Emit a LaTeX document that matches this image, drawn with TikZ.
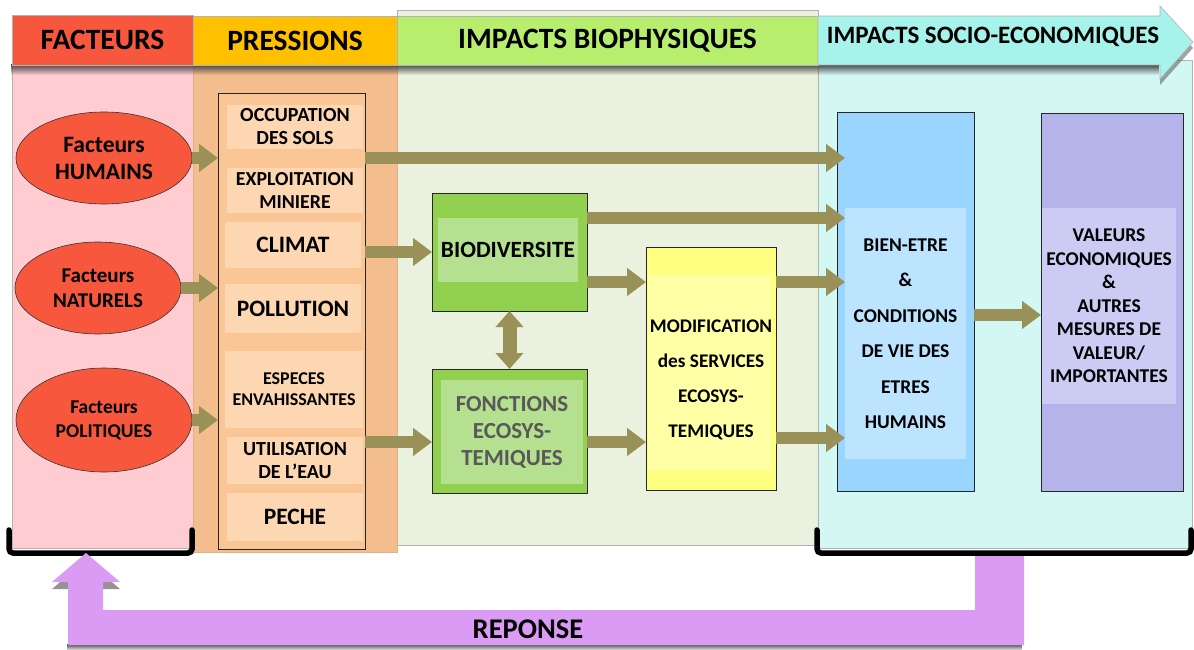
\documentclass[tikz,border=0pt]{standalone}
\usepackage{fontspec}
\setmainfont{Carlito}
\usetikzlibrary{arrows.meta,shapes.geometric,fadings,calc}
\definecolor{cRed}{HTML}{F7583D}
\definecolor{cOrange}{HTML}{FFC000}
\definecolor{cGreenH}{HTML}{B8EE6D}
\definecolor{cCyanH}{HTML}{A6F3EB}
\definecolor{cPink}{HTML}{FFCCD2}
\definecolor{cOrCol}{HTML}{F4BD8E}
\definecolor{cPBox}{HTML}{FAC696}
\definecolor{cPSub}{HTML}{FDD6B2}
\definecolor{cBioCol}{HTML}{EBF1DF}
\definecolor{cSocCol}{HTML}{D3F8F4}
\definecolor{cOlive}{HTML}{9A9159}
\definecolor{cGreen}{HTML}{92D050}
\definecolor{cGreenIn}{HTML}{B5E08F}
\definecolor{cYel}{HTML}{FFFF80}
\definecolor{cYelIn}{HTML}{FFFFA6}
\definecolor{cBlue}{HTML}{99D5FF}
\definecolor{cBlueIn}{HTML}{BCE4FF}
\definecolor{cLav}{HTML}{B4B4EB}
\definecolor{cLavIn}{HTML}{CBCBF3}
\definecolor{cPurp}{HTML}{D99BF3}
\definecolor{cGrayTxt}{HTML}{595959}
\newcommand{\fs}[2]{\fontsize{#1}{#2}\selectfont}
\begin{document}
\begin{tikzpicture}[x=1pt,y=-1pt,
  every node/.style={font=\bfseries, inner sep=0pt, outer sep=0pt},
  colbg/.style={draw=gray!60, line width=0.6pt, anchor=north west},
  hdr/.style={draw=gray!60, line width=0.6pt, anchor=north west, minimum height=50pt, font=\bfseries\fs{29.5}{31}},
  fbox/.style={draw=black!85, line width=0.8pt, anchor=north west},
  inbox/.style={anchor=north west, align=center},
  psub/.style={fill=cPSub, anchor=north west, align=center},
  fat/.style={draw=cOlive, line width=12pt, -{Triangle[length=19pt,width=27pt]}},
  fatboth/.style={draw=cOlive, line width=14pt, {Triangle[length=16pt,width=27pt]}-{Triangle[length=16pt,width=27pt]}},
  elli/.style={ellipse, draw=black!80, line width=0.6pt, fill=cRed, align=center},
  bracket/.style={draw=black, line width=5.5pt, rounded corners=4pt, line cap=round}
]
\useasboundingbox (0,0) rectangle (1194,650);
% columns
\node[colbg, fill=cBioCol, minimum width=421pt, minimum height=535pt] (biocol) at (397,10) {};
\node[colbg, fill=cPink, minimum width=181pt, minimum height=488pt] (faccol) at (12,60) {};
\node[colbg, fill=cOrCol, draw=cOrCol!80!gray, minimum width=204pt, minimum height=492pt] (precol) at (193,60) {};
\node[colbg, fill=cSocCol, minimum width=374pt, minimum height=488pt] (soccol) at (818,60) {};
% header shadow
\fill[black!75, path fading=south] (12,64) rectangle (1162,75);
\fill[black!60, opacity=0.6] (1160,12) -- (1193,48) -- (1160,85) -- cycle;
% headers
\node[hdr, fill=cRed, minimum width=181pt] (hfac) at (12,15) {FACTEURS};
\node[hdr, fill=cOrange, minimum width=204pt, minimum height=49pt] (hpre) at (193,16) {PRESSIONS};
\node[hdr, fill=cGreenH, minimum width=421pt, minimum height=49pt] (hbio) at (397,16) {IMPACTS BIOPHYSIQUES};
\filldraw[fill=cCyanH, draw=gray!60, line width=0.6pt] (818,16) -- (1160,16) -- (1160,6) -- (1193,42) -- (1160,79) -- (1160,65) -- (818,65) -- cycle;
\node[font=\bfseries\fs{25}{27}] (hsoc) at (993,37) {IMPACTS SOCIO-ECONOMIQUES};
% pressions
\node[fbox, fill=cPBox, minimum width=147pt, minimum height=456pt] (pbox) at (218,93) {};
\node[psub, minimum width=136pt, minimum height=44pt, font=\bfseries\fs{20}{23}] (occ) at (227,105) {OCCUPATION\\DES SOLS};
\node[psub, minimum width=136pt, minimum height=45pt, font=\bfseries\fs{19.8}{23}] (expl) at (227,168) {EXPLOITATION\\MINIERE};
\node[psub, minimum width=136pt, minimum height=46pt, font=\bfseries\fs{23.5}{25}] (cli) at (225,222) {CLIMAT};
\node[psub, minimum width=136pt, minimum height=49pt, font=\bfseries\fs{23.5}{25}] (poll) at (225,284) {POLLUTION};
\node[psub, minimum width=138pt, minimum height=77pt, font=\bfseries\fs{18}{21}] (esp) at (225,351) {ESPECES\\ENVAHISSANTES};
\node[psub, minimum width=136pt, minimum height=47pt, font=\bfseries\fs{20}{23}] (uti) at (227,437) {UTILISATION\\DE L’EAU};
\node[psub, minimum width=136pt, minimum height=48pt, font=\bfseries\fs{23.5}{25}] (pec) at (227,493) {PECHE};
% facteurs
\node[elli, minimum width=176pt, minimum height=92pt, font=\bfseries\fs{23.5}{27}] (hum) at (104,158) {Facteurs\\HUMAINS};
\node[elli, minimum width=166pt, minimum height=92pt, font=\bfseries\fs{21}{25}] (nat) at (98,288) {Facteurs\\NATURELS};
\node[elli, minimum width=176pt, minimum height=104pt, font=\bfseries\fs{19.5}{24}] (pol) at (104,420) {Facteurs\\POLITIQUES};
% impacts biophysiques
\node[fbox, fill=cGreen, minimum width=155pt, minimum height=118pt] (bio) at (432,193) {};
\node[inbox, fill=cGreenIn, minimum width=140pt, minimum height=64pt, font=\bfseries\fs{23.3}{25}] (bioin) at (438,218) {BIODIVERSITE};
\node[fbox, fill=cGreen, minimum width=155pt, minimum height=124pt] (fonc) at (432,369) {};
\node[inbox, fill=cGreenIn, minimum width=142pt, minimum height=104pt, text=cGrayTxt, font=\bfseries\fs{23}{27}] (foncin) at (441,380) {FONCTIONS\\ECOSYS-\\TEMIQUES};
\node[fbox, fill=cYel, minimum width=130pt, minimum height=243pt] (mod) at (646,247) {};
\node[inbox, fill=cYelIn, minimum width=123pt, minimum height=195pt] (modin) at (648,275) {};
\node[align=center, font=\bfseries\fs{19.3}{35}] (modtxt) at (711,380) {MODIFICATION\\des SERVICES\\ECOSYS-\\TEMIQUES};
% impacts socio-economiques
\node[fbox, fill=cBlue, minimum width=137pt, minimum height=379pt] (bien) at (837,112) {};
\node[inbox, fill=cBlueIn, minimum width=121pt, minimum height=251pt, font=\bfseries\fs{19.5}{35.5}] (bienin) at (845,208) {BIEN-ETRE\\\&\\CONDITIONS\\DE VIE DES\\ETRES\\HUMAINS};
\node[fbox, fill=cLav, minimum width=142pt, minimum height=378pt] (val) at (1041,113) {};
\node[inbox, fill=cLavIn, minimum width=134pt, minimum height=196pt, font=\bfseries\fs{19.5}{23.5}] (valin) at (1042,208) {VALEURS\\ECONOMIQUES\\\&\\AUTRES\\MESURES DE\\VALEUR/\\IMPORTANTES};
% connectors
\coordinate (r5) at (0,442);
\coordinate (r6) at (0,438);
\coordinate (r8) at (0,315);
\draw[fat] (hum.east) -- (hum.east -| pbox.west);
\draw[fat] (nat.east) -- (nat.east -| pbox.west);
\draw[fat] (pol.east) -- (pol.east -| pbox.west);
\draw[fat] (pbox.east |- hum.east) -- (bienin.west |- hum.east);
\draw[fat] (pbox.east |- bio.west) -- (bio.west);
\draw[fat] (pbox.east |- r5) -- (fonc.west |- r5);
\draw[fat] (bioin.north -| bio.east) -- (bioin.north -| bienin.west);
\draw[fat] (bioin.south -| bio.east) -- (bioin.south -| mod.west);
\draw[fat] (fonc.east |- r5) -- (mod.west |- r5);
\draw[fat] (mod.east |- bioin.south) -- (bienin.west |- bioin.south);
\draw[fat] (mod.east |- r6) -- (bienin.west |- r6);
\draw[fat] (bien.east |- r8) -- (val.west |- r8);
\draw[fatboth] (bio.south) -- (fonc.north);
% brackets
\draw[bracket] (9,530) -- (9,553) -- (192,553) -- (192,530);
\draw[bracket] (817,530) -- (817,553) -- (1191,553) -- (1191,530);
% reponse
\fill[black!70, path fading=south] (68,644) rectangle (1024,651);
\fill[black!60, opacity=0.7] (52,589) -- (86,560) -- (120,589) -- cycle;
\fill[cPurp] (975,556) -- (1024,556) -- (1024,645) -- (68,645) -- (68,582) -- (52,582) -- (86,553) -- (120,582) -- (103,582) -- (103,610) -- (975,610) -- cycle;
\node[font=\bfseries\fs{28.5}{30}] (rep) at (528,629) {REPONSE};
\end{tikzpicture}
\end{document}
